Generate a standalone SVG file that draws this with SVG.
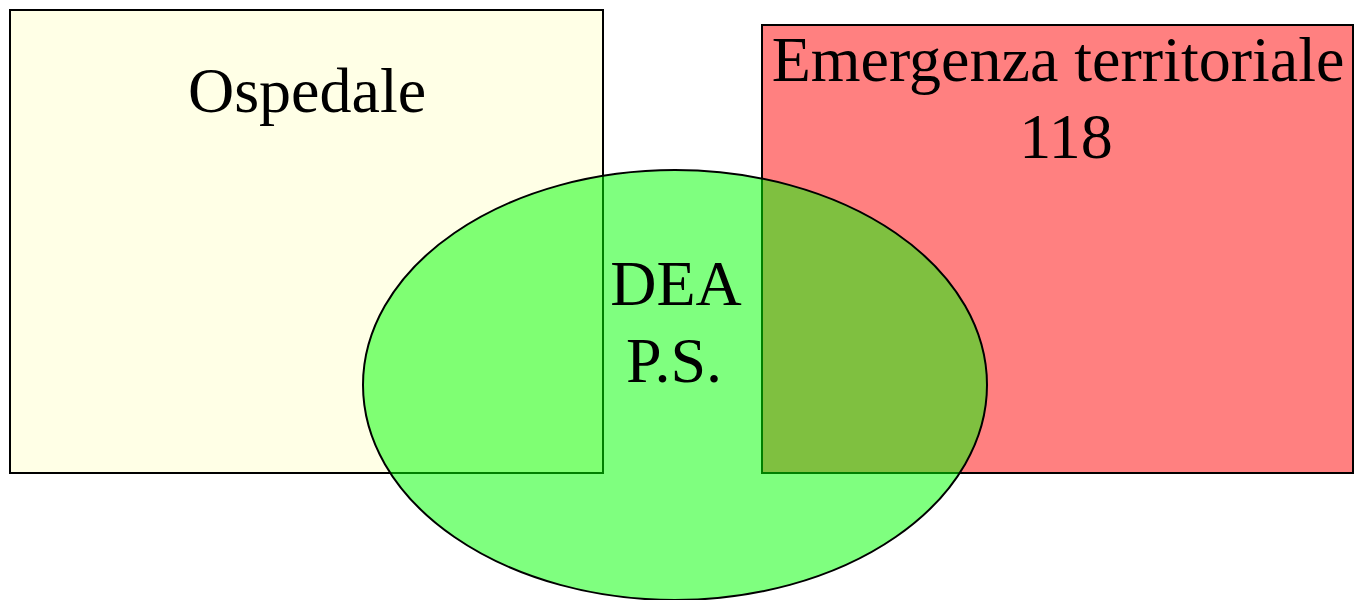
<svg xmlns="http://www.w3.org/2000/svg" width="1355" height="600" viewBox="0 0 1355 600">
<style>
.t{font-family:"Liberation Serif","Times New Roman",serif;font-size:64px;fill:#000;text-anchor:middle}
.box{stroke:#000;stroke-width:2}
</style>
<rect width="1355" height="600" fill="#fff"/>
<g id="ospedale">
<rect class="box" x="10" y="10" width="593" height="463" fill="#FFFFE6"/>
<text class="t" x="307" y="112">Ospedale</text>
</g>
<g id="emergenza">
<rect class="box" x="762" y="25" width="591" height="448" fill="#FF8080"/>
<text class="t" x="1058" y="81">Emergenza territoriale</text>
<text class="t" x="1066" y="158">118</text>
</g>
<g id="dea">
<ellipse cx="675" cy="385" rx="312" ry="215" fill="#00FF00" fill-opacity="0.5" stroke="#000" stroke-width="2"/>
<text class="t" x="676" y="305">DEA</text>
<text class="t" x="674" y="382">P.S.</text>
</g>
<g id="connectors"/>
</svg>
